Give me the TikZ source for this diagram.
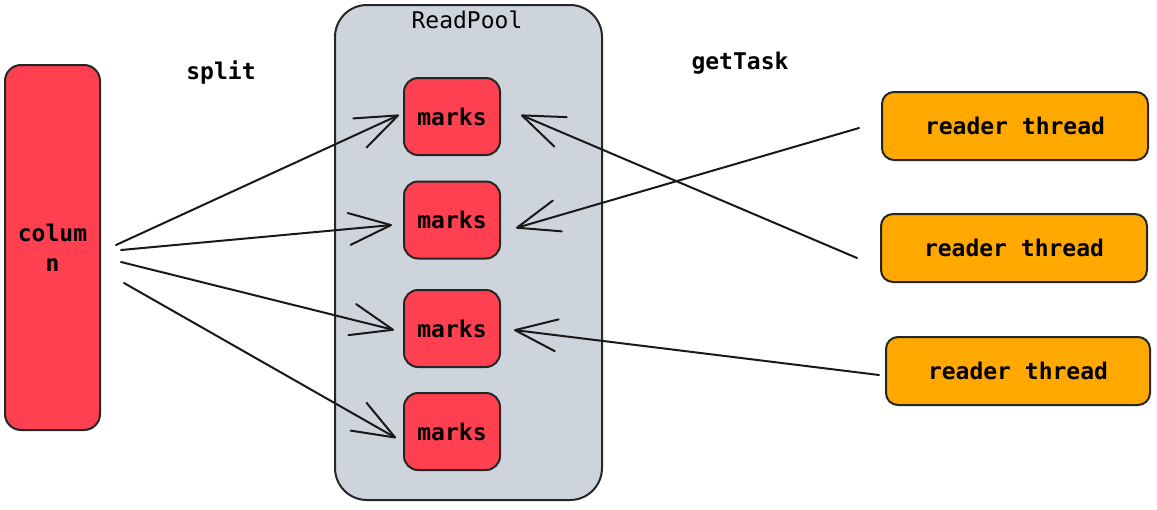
\documentclass[tikz,border=0pt]{standalone}
\usepackage{fontspec}
\setmonofont{DejaVu Sans Mono}
\usetikzlibrary{arrows.meta,calc}
\definecolor{boxred}{HTML}{FF4050}
\definecolor{poolgrey}{HTML}{CED4DC}
\definecolor{thorange}{HTML}{FFA800}
\begin{document}
\begin{tikzpicture}[x=1pt,y=-1pt,
  box/.style={draw=black!85, line width=2pt, inner sep=0pt, align=center,
    font=\ttfamily\bfseries\fontsize{23}{30}\selectfont},
  redbox/.style={box, fill=boxred, rounded corners=14pt, minimum width=96pt, minimum height=77pt},
  thbox/.style={box, fill=thorange, rounded corners=12pt, minimum width=266pt, minimum height=68pt},
  lbl/.style={inner sep=0pt, font=\ttfamily\bfseries\fontsize{23}{30}\selectfont},
  arr/.style={draw=black!90, line width=2pt, line cap=round,
    -{Straight Barb[length=42pt,width=32pt,line width=2pt,round]}}]
\useasboundingbox (0,0) rectangle (1157,509);
\fill[white] (0,0) rectangle (1157,509);

% column
\node[box, fill=boxred, rounded corners=16pt, minimum width=95pt, minimum height=365pt] (col) at (52.5,247.5) {colum\\n};

% ReadPool
\node[box, fill=poolgrey, rounded corners=32pt, minimum width=267pt, minimum height=495pt] (pool) at (468.5,252.5) {};
\node[lbl, font=\ttfamily\fontsize{23}{30}\selectfont] (poollbl) at (467,20) {ReadPool};

% marks
\node[redbox] (m1) at (452,116.5) {marks};
\node[redbox] (m2) at (452,220) {marks};
\node[redbox] (m3) at (452,328.5) {marks};
\node[redbox] (m4) at (452,431.5) {marks};

% reader threads
\node[thbox] (r1) at (1015,126) {reader thread};
\node[thbox] (r2) at (1014,248) {reader thread};
\node[thbox, minimum width=264pt] (r3) at (1018,371) {reader thread};

% labels
\node[lbl] (split) at (221,73) {split};
\node[lbl] (gettask) at (740,63) {getTask};

% split arrows
\draw[arr] ($(col.east)+(15,-2.5)$) -- ($(m1.west)+(-4,-1.5)$);
\draw[arr] ($(col.east)+(20,2.5)$) -- ($(m2.west)+(-11,5)$);
\draw[arr] ($(col.east)+(20,14.5)$) -- ($(m3.west)+(-9,1.5)$);
\draw[arr] ($(col.east)+(23,35.5)$) -- ($(m4.west)+(-7,6.5)$);

% getTask arrows
\draw[arr] ($(r1.west)+(-22,2)$) -- ($(m2.east)+(15,8)$);
\draw[arr] ($(r2.west)+(-23,10)$) -- ($(m1.east)+(20,-1.5)$);
\draw[arr] ($(r3.west)+(-6,4)$) -- ($(m3.east)+(13,1.5)$);
\end{tikzpicture}
\end{document}
